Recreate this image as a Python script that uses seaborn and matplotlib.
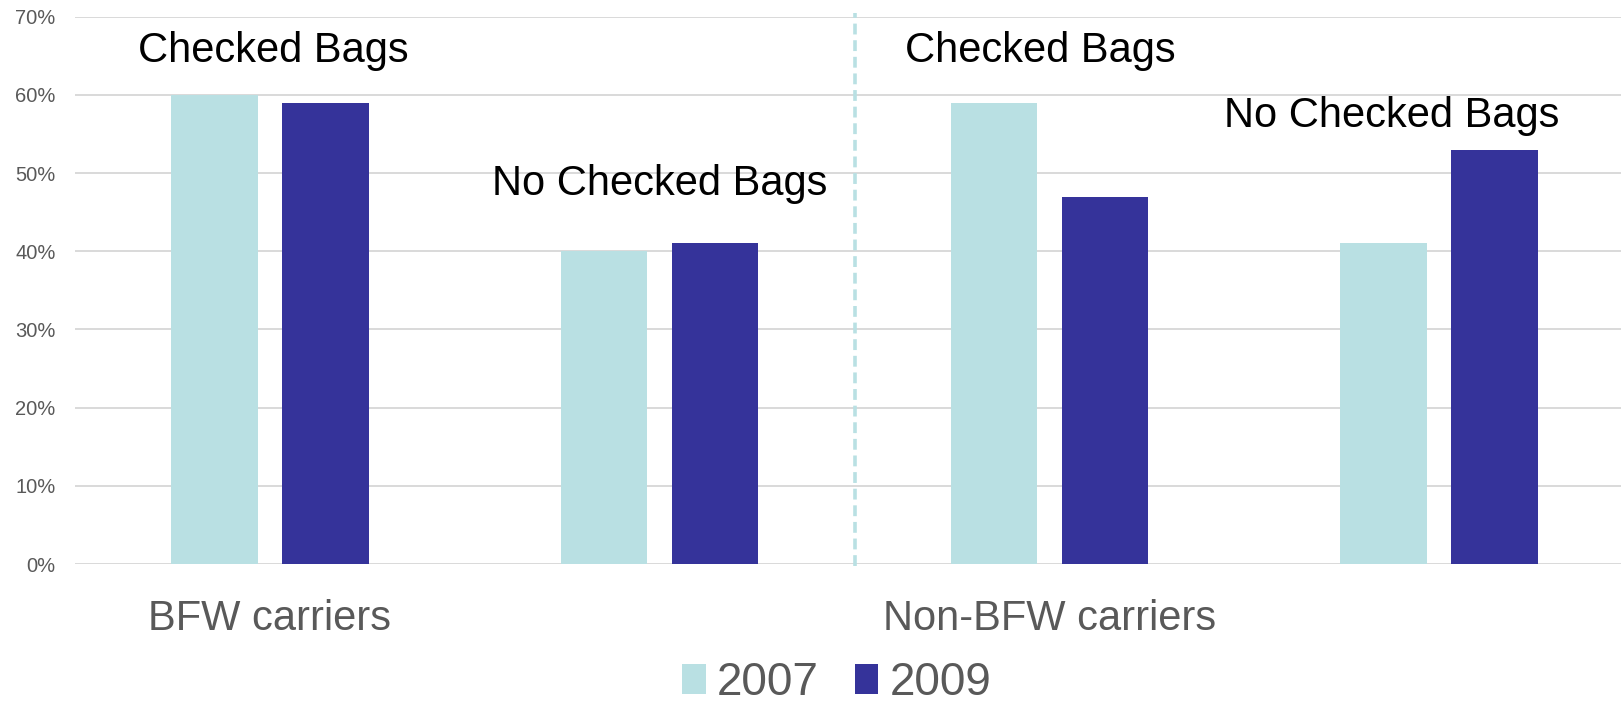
import matplotlib
matplotlib.use("Agg")
import matplotlib.pyplot as plt
from matplotlib.ticker import FuncFormatter
import seaborn as sns
import pandas as pd

# Share of travellers by bag choice, for carriers with / without bag fees
categories = ["BFW Checked", "BFW No Checked", "Non-BFW Checked", "Non-BFW No Checked"]
tick_labels = ["BFW carriers", "", "Non-BFW carriers", ""]
bag_labels = ["Checked Bags", "No Checked Bags", "Checked Bags", "No Checked Bags"]
years = ["2007", "2009"]
share_2007 = [60, 40, 59, 41]
share_2009 = [59, 41, 47, 53]

# label placement (x centre in category units, baseline in % units)
label_x = [0.01, 1.0, 1.977, 2.878]
label_y = [64.15, 47.25, 64.15, 55.95]

colors = ["#B9E0E3", "#35339A"]
grey = "#595959"

df = pd.DataFrame({
    "category": categories * 2,
    "year": [years[0]] * len(categories) + [years[1]] * len(categories),
    "share": share_2007 + share_2009,
})

sns.set_theme(style="white")
plt.rcParams["font.family"] = ["Liberation Sans", "DejaVu Sans"]

fig = plt.figure(figsize=(16.21, 7.05), dpi=100)
ax = fig.add_axes([75 / 1621, 0.2, 1559 / 1621, 0.7763])

sns.barplot(data=df, x="category", y="share", hue="year", order=categories,
            hue_order=years, palette=colors, width=0.57, gap=0.22,
            linewidth=0, saturation=1, ax=ax, zorder=3)

ax.set_xlim(-0.5, 3.5)
ax.set_ylim(0, 70)
ax.set_yticks(range(0, 71, 10))
ax.yaxis.set_major_formatter(FuncFormatter(lambda v, _: f"{v:.0f}%"))
ax.grid(axis="y", color="#D9D9D9", linewidth=1.4, zorder=0)
ax.grid(axis="x", visible=False)
for s in ax.spines.values():
    s.set_visible(False)

ax.set_xticks(range(len(categories)))
ax.set_xticklabels(tick_labels, fontsize=30, color=grey)
ax.tick_params(axis="x", length=0, pad=25)
ax.tick_params(axis="y", length=0, pad=14, labelsize=14.5, labelcolor=grey)
ax.set_xlabel("")
ax.set_ylabel("")

# separator between carrier groups
ax.axvline(1.5, ymin=-0.004, ymax=1.006, color="#B9E0E3", linewidth=2.6,
           linestyle=(0, (3, 1.6)), clip_on=False, zorder=2)

for x, y, t in zip(label_x, label_y, bag_labels):
    ax.text(x, y, t, ha="center", va="baseline", fontsize=30, color="black", zorder=4)

ax.legend_.remove()
handles, labels = ax.get_legend_handles_labels()
fig.legend(handles, labels, loc="center", bbox_to_anchor=(0.516, 0.031),
           ncol=2, frameon=False, fontsize=33, labelcolor=grey,
           handlelength=0.52, handleheight=0.6, handletextpad=0.24,
           columnspacing=0.79, borderpad=0)

fig.savefig("out.png", dpi=100)
